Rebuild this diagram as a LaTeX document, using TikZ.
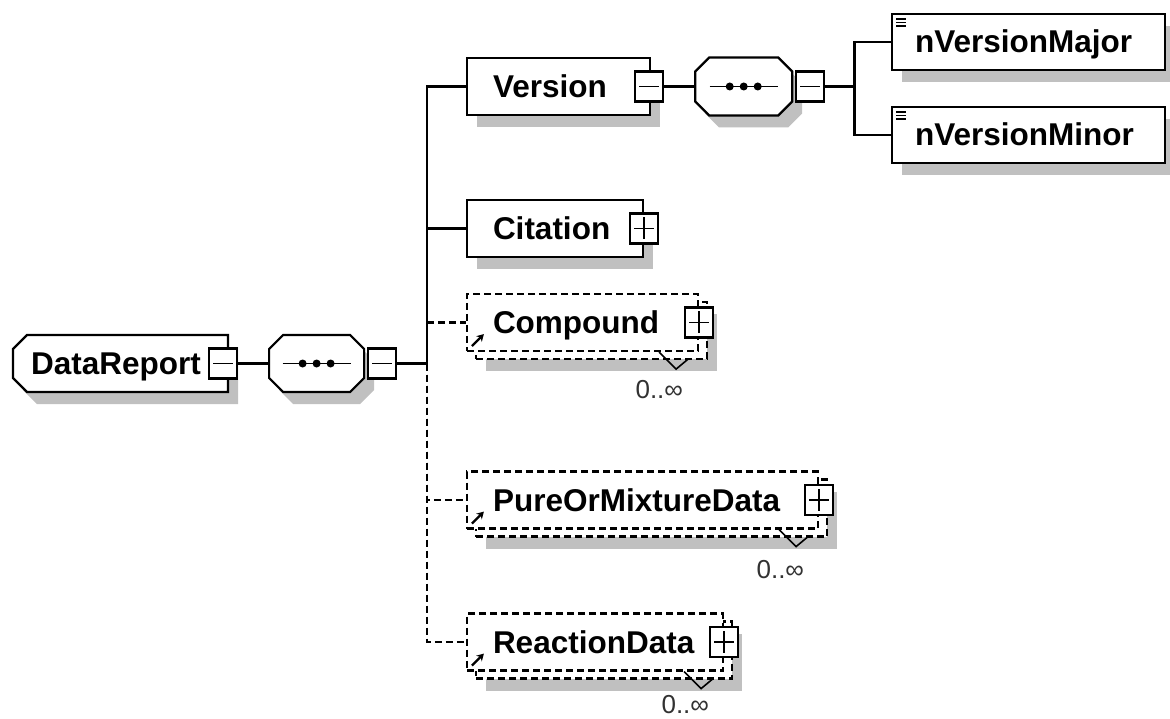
\documentclass[tikz,border=0pt]{standalone}
\usepackage{fontspec}
\setmainfont{Liberation Sans}
\usepackage{tikz}
\usetikzlibrary{positioning,shadows,arrows.meta}
\definecolor{shadowgray}{RGB}{192,192,192}
\definecolor{multgray}{RGB}{50,50,50}

\begin{document}
\begin{tikzpicture}[%
  x=1pt,
  y=-1pt,
  line width=2.2pt,
  font=\fontsize{31.5}{36}\selectfont\bfseries,
  dsh/.style={dash pattern=on 7pt off 4pt},
  shadowed/.style={
    general shadow={fill=shadowgray, shadow xshift=10pt, shadow yshift=-12pt}},
  elem/.style={
    draw,
    fill=white,
    inner sep=0pt,
    minimum height=57pt,
    minimum width=#1},
  rep/.style={
    elem=#1,
    dsh},
  frame/.style={
    inner sep=0pt,
    outer sep=0pt,
    minimum height=57pt,
    minimum width=#1},
  body/.style={
    draw,
    fill=white,
    shadowed},
  seqbody/.style={
    body,
    path picture={
      \draw[line width=1.8pt] ([xshift=-34pt]path picture bounding box.center) -- ([xshift=34pt]path picture bounding box.center);
      \foreach \d in {-14,0,14}
        \fill[black] ([xshift=\d pt]path picture bounding box.center) circle (4pt);}},
  simple/.style={
    elem=273,
    minimum height=56pt,
    shadowed,
    path picture={
      \foreach \k in {5,8.5,12}
        \draw[black, line width=1.4pt] ([shift={(4pt,-\k pt)}]path picture bounding box.north west) -- ++(10,0);}},
  tog/.style={
    draw,
    fill=white,
    inner sep=0pt,
    minimum width=28pt,
    minimum height=30pt},
  minus/.style={
    tog,
    path picture={
      \draw[line width=1.8pt] ([xshift=4pt]path picture bounding box.west) -- ([xshift=-4pt]path picture bounding box.east);}},
  plus/.style={
    tog,
    path picture={
      \draw[line width=1.8pt] ([xshift=4pt]path picture bounding box.west) -- ([xshift=-4pt]path picture bounding box.east);
      \draw[line width=1.8pt] ([yshift=-4pt]path picture bounding box.north) -- ([yshift=4pt]path picture bounding box.south);}},
  lbl/.style={
    inner sep=0pt,
    text height=22pt,
    text depth=0pt},
  mult/.style={
    inner sep=0pt,
    text=multgray,
    font=\fontsize{26}{30}\selectfont},
  notch/.style={line width=1.6pt},
  ref/.style={-{Stealth[length=7pt,width=8pt]}, line width=2.2pt}
  ]
  \path[use as bounding box, fill=white] (0,0) rectangle (1170,719);
  %% Nodes
  \node[frame=215] (DR) at (120.5,363.5) {};
  \draw[body] ([xshift=14pt]DR.north west) -- (DR.north east) -- (DR.south east)
    -- ([xshift=14pt]DR.south west) -- ([yshift=14pt]DR.south west)
    -- ([yshift=-14pt]DR.north west) -- cycle;
  \node[lbl, right=17pt of DR.west] (DRt) {DataReport};
  \node[minus] (DRx) at ([xshift=-5pt]DR.east) {};
  \node[frame=95, right=31pt of DRx] (Seq1) {};
  \draw[seqbody] ([xshift=14pt]Seq1.north west) -- ([xshift=-14pt]Seq1.north east)
    -- ([yshift=-14pt]Seq1.north east) -- ([yshift=14pt]Seq1.south east)
    -- ([xshift=-14pt]Seq1.south east) -- ([xshift=14pt]Seq1.south west)
    -- ([yshift=14pt]Seq1.south west) -- ([yshift=-14pt]Seq1.north west) -- cycle;
  \node[minus, right=3pt of Seq1] (Seq1x) {};
  \coordinate[right=30pt of Seq1x] (J1);

  \node[elem=183, shadowed] (Ver) at (558.5,86.5) {};
  \node[lbl, right=26pt of Ver.west] (VerT) {Version};
  \node[minus] (VerX) at ([xshift=-2pt]Ver.east) {};
  \node[frame=97, minimum height=58pt, right=31pt of VerX] (Seq2) {};
  \draw[seqbody] ([xshift=14pt]Seq2.north west) -- ([xshift=-14pt]Seq2.north east)
    -- ([yshift=-14pt]Seq2.north east) -- ([yshift=14pt]Seq2.south east)
    -- ([xshift=-14pt]Seq2.south east) -- ([xshift=14pt]Seq2.south west)
    -- ([yshift=14pt]Seq2.south west) -- ([yshift=-14pt]Seq2.north west) -- cycle;
  \node[minus, right=3pt of Seq2] (Seq2x) {};
  \coordinate[right=29pt of Seq2x] (J2);

  \node[simple] (VMaj) at (1028.5,42) {};
  \node[lbl, right=23pt of VMaj.west] (VMajT) {nVersionMajor};
  \node[simple] (VMin) at (1028.5,135) {};
  \node[lbl, right=23pt of VMin.west] (VMinT) {nVersionMinor};

  \node[elem=176, shadowed] (Cit) at (555,228.5) {};
  \node[lbl, right=26pt of Cit.west] (CitT) {Citation};
  \node[plus] (CitX) at (Cit.east) {};

  \node[rep=231, shadowed] (CompB) at (591.5,330.5) {};
  \node[rep=231] (Comp) at (582.5,322.5) {};
  \node[lbl, right=26pt of Comp.west] (CompT) {Compound};
  \node[plus] (CompX) at (Comp.east) {};
  \node[mult, below left=27pt and 15pt of Comp.south east] (CompM) {0..∞};

  \node[rep=351, shadowed] (PMDB) at (651.5,508) {};
  \node[rep=351] (PMD) at (642.5,500) {};
  \node[lbl, right=26pt of PMD.west] (PMDT) {PureOrMixtureData};
  \node[plus] (PMDX) at (PMD.east) {};
  \node[mult, below left=30pt and 14pt of PMD.south east] (PMDM) {0..∞};

  \node[rep=256, shadowed] (RDB) at (604,650) {};
  \node[rep=256] (RD) at (595,642) {};
  \node[lbl, right=26pt of RD.west] (RDT) {ReactionData};
  \node[plus] (RDX) at (RD.east) {};
  \node[mult, below left=23pt and 14pt of RD.south east] (RDM) {0..∞};

  %% Edges
  \draw (DRx) -- (Seq1);
  \draw (Seq1x) -- (J1);
  \draw (J1) |- (Ver);
  \draw (J1) |- (Cit);
  \draw[dsh] (J1 |- Comp) -- (Comp);
  \draw[dsh] (J1) |- (PMD);
  \draw[dsh] (J1) |- (RD);
  \draw (VerX) -- (Seq2);
  \draw (Seq2x) -- (J2);
  \draw (J2) |- (VMaj);
  \draw (J2) |- (VMin);

  %% Marks
  \draw[notch] ([xshift=-40pt]Comp.south east) -- ++(17,17) -- ++(12,-10);
  \draw[notch] ([xshift=-40pt]PMD.south east) -- ++(17,17) -- ++(12,-10);
  \draw[notch] ([xshift=-40pt]RD.south east) -- ++(17,17) -- ++(12,-10);
  \draw[ref] ([shift={(6pt,6pt)}]Comp.south west) -- ++(12,-12);
  \draw[ref] ([shift={(6pt,6pt)}]PMD.south west) -- ++(12,-12);
  \draw[ref] ([shift={(6pt,6pt)}]RD.south west) -- ++(12,-12);
\end{tikzpicture}
\end{document}
